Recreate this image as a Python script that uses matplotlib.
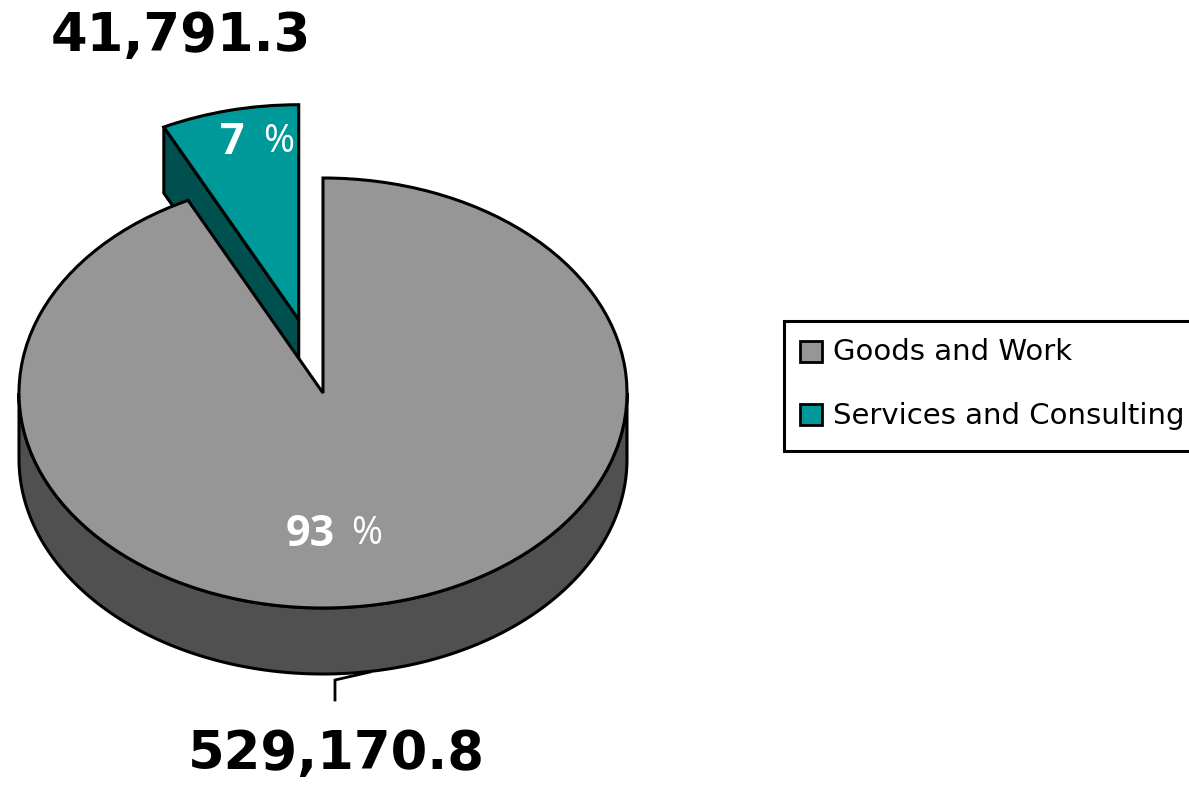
import numpy as np
import matplotlib
matplotlib.use("Agg")
import matplotlib.pyplot as plt
from matplotlib.legend_handler import HandlerPatch

categories = ["Goods and Work", "Services and Consulting"]
values = [529170.8, 41791.3]
share_numbers = ["93", "7"]
explode = [0.0, 0.35]
colors = ["#969696", "#009999"]
side_colors = ["#505050", "#005050"]

W, H = 1189, 786
CX, CY, RX, RY = 323.0, 393.0, 304.0, 215.0
DEPTH = 66.0 / RY

fig = plt.figure(figsize=(W / 100, H / 100), dpi=100, facecolor="white")
ax = fig.add_axes([0, 0, 1, 1])
wedges, _ = ax.pie(values, colors=colors, explode=explode, startangle=90, counterclock=False,
                   radius=1.0, wedgeprops=dict(edgecolor="black", linewidth=2.2, zorder=3, joinstyle="miter"))
ax.set_aspect("auto")
ax.set_xlim(-CX / RX, (W - CX) / RX)
ax.set_ylim(-(H - CY) / RY, CY / RY)
ax.axis("off")

def px(x, y):
    return (x - CX) / RX, (CY - y) / RY

# extruded sides derived from the wedge geometry
t = np.radians(np.linspace(180, 360, 200))
xs = np.cos(t)
ys = np.sin(t)
ax.fill(np.r_[xs, xs[::-1]], np.r_[ys, ys[::-1] - DEPTH], fc=side_colors[0], ec="black", lw=2.2, zorder=2)

small = wedges[1]
c = np.array(small.center)
angles = np.radians([small.theta1, small.theta2])
left = c + np.array([np.cos(angles.max()), np.sin(angles.max())])
xy = np.array([c, left, left - [0, DEPTH], c - [0, DEPTH]])
ax.fill(xy[:, 0], xy[:, 1], fc=side_colors[1], ec="black", lw=2.2, zorder=2, joinstyle="miter")

# leader line of the large slice
lx, ly = zip(px(335, 700), px(335, 680), px(370, 672))
ax.plot(lx, ly, color="black", lw=2, zorder=1, solid_joinstyle="miter")

big = "DejaVu Sans"
small_font = "Open Sans"
for i, (tx, ty) in zip([1, 0], [(181, 36), (336, 754)]):
    x, y = px(tx, ty)
    ax.text(x, y, f"{values[i]:,.1f}", ha="center", va="center", fontsize=38, fontweight="bold",
            color="black", family=big)

for i, (nx, sx, ty) in zip([0, 1], [(310, 367, 530), (232, 279, 138)]):
    x, y = px(nx, ty)
    ax.text(x, y, share_numbers[i], ha="center", va="center_baseline", fontsize=31, fontweight="bold",
            color="white", family=small_font, zorder=5)
    x, y = px(sx, ty)
    ax.text(x, y, "%", ha="center", va="center_baseline", fontsize=27, color="white",
            family=small_font, zorder=5)

leg = ax.legend(wedges, categories, loc="upper left", bbox_to_anchor=(784 / W, 1 - 321 / H),
                bbox_transform=fig.transFigure, frameon=True, fancybox=False,
                edgecolor="black", framealpha=1, handlelength=0.656, handleheight=0.78,
                handletextpad=0.38, labelspacing=1.22, borderpad=0.65, borderaxespad=0,
                prop=dict(family=big, size=21),
                handler_map={type(wedges[0]): HandlerPatch(xpad=-0.1, ypad=0.03)})
leg.get_frame().set_linewidth(2.2)
for h in leg.legend_handles:
    h.set_linewidth(2)
for txt in leg.get_texts():
    txt.set_position((0, 2))

fig.savefig("out.png", dpi=100)
